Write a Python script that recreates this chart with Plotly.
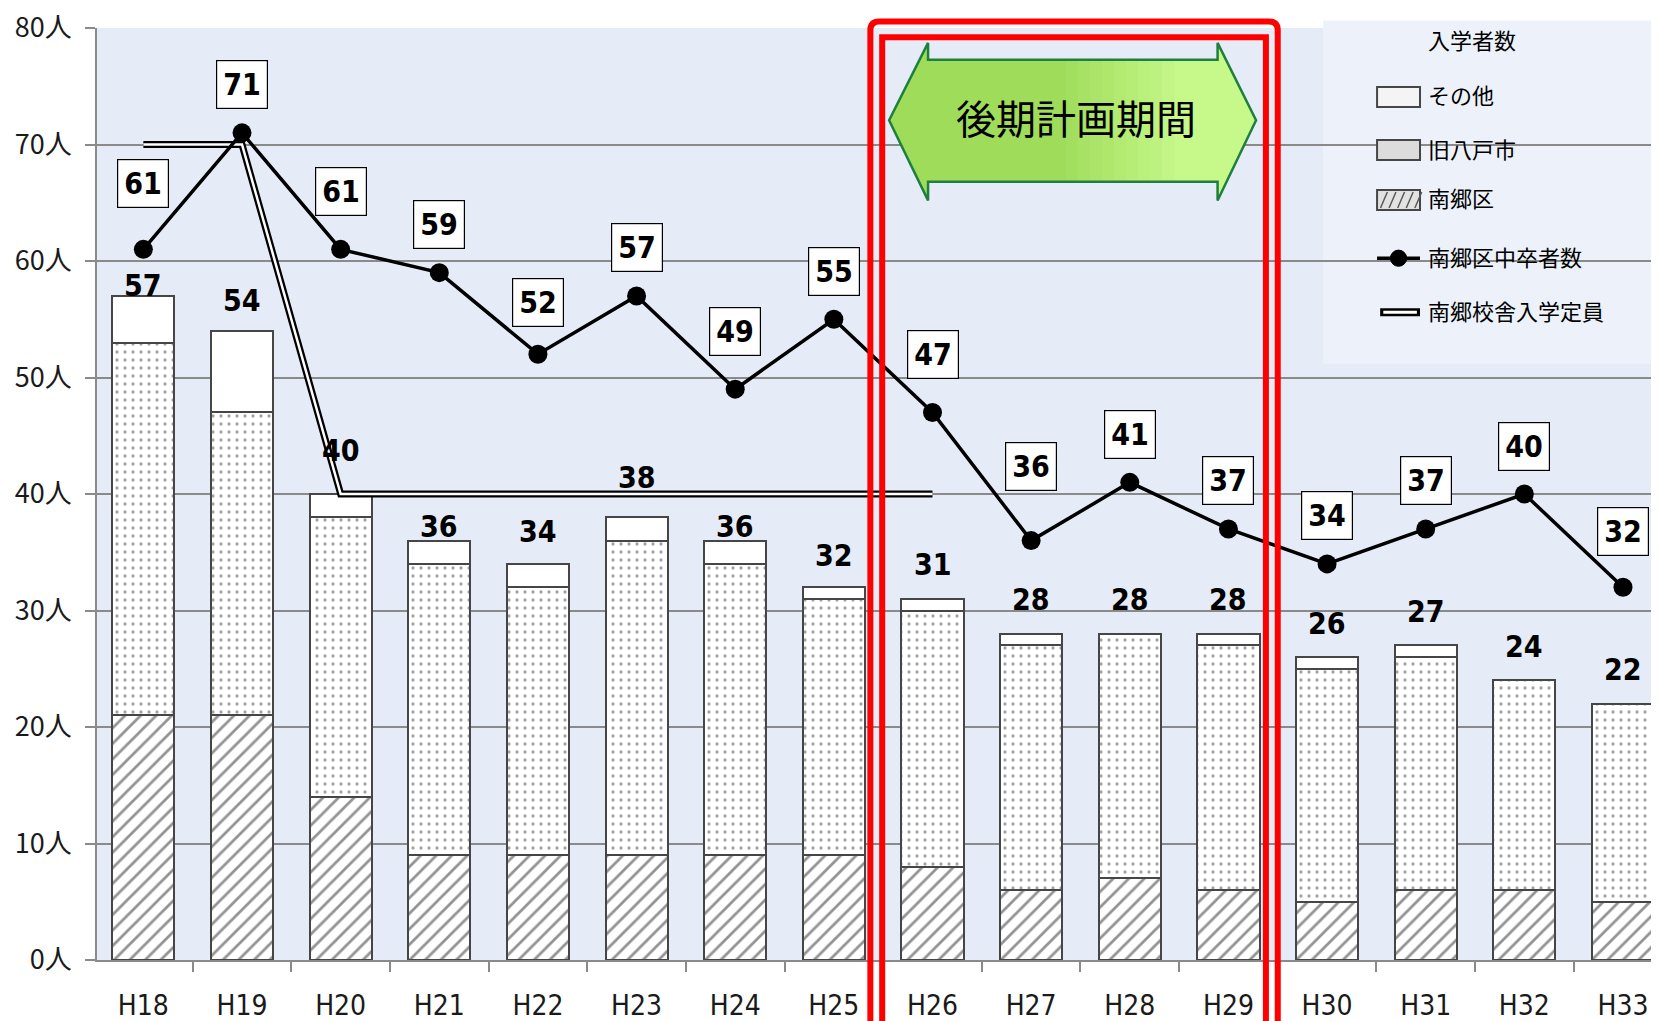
import plotly.graph_objects as go

# ---------------- data ----------------
years = ["H18", "H19", "H20", "H21", "H22", "H23", "H24", "H25",
         "H26", "H27", "H28", "H29", "H30", "H31", "H32", "H33"]
nango = [21, 21, 14, 9, 9, 9, 9, 9, 8, 6, 7, 6, 5, 6, 6, 5]          # 南郷区
hachinohe = [32, 26, 24, 25, 23, 27, 25, 22, 22, 21, 21, 21, 20, 20, 18, 17]  # 旧八戸市
others = [4, 7, 2, 2, 2, 2, 2, 1, 1, 1, 0, 1, 1, 1, 0, 0]             # その他
totals = [57, 54, 40, 36, 34, 38, 36, 32, 31, 28, 28, 28, 26, 27, 24, 22]
graduates = [61, 71, 61, 59, 52, 57, 49, 55, 47, 36, 41, 37, 34, 37, 40, 32]  # 南郷区中卒者数
capacity = [70, 70, 40, 40, 40, 40, 40, 40, 40,
            None, None, None, None, None, None, None]                  # 南郷校舎入学定員
y_ticks = [0, 10, 20, 30, 40, 50, 60, 70, 80]
y_ticktext = [f"{v}人" for v in y_ticks]
legend_title = "入学者数"
legend_names = ["その他", "旧八戸市", "南郷区", "南郷区中卒者数", "南郷校舎入学定員"]

# ---------------- style ----------------
NUM_FONT = "Liberation Sans Narrow, DejaVu Sans Condensed, Noto Sans CJK JP"
JP_FONT = "Noto Sans CJK JP"
EDGE = "rgb(70,70,70)"
bar_total_shift = [10, 30, 44, 14, 32, 40, 14, 32, 34, 34, 34, 34, 34, 34, 34, 34]
grad_label_shift = [66, 48, 58, 48, 52, 48, 58, 48, 58, 74, 48, 48, 48, 48, 48, 56]


def cjk_shift(size):
    # vertical compensation for Noto Sans CJK metrics in annotations
    return 0.75 * size + 4


fig = go.Figure()

fig.add_trace(go.Bar(
    x=years, y=nango, name="南郷区", showlegend=False,
    width=0.63,
    marker=dict(color="white", line=dict(color=EDGE, width=2),
                pattern=dict(shape="/", fgcolor="rgb(40,40,40)", bgcolor="white",
                             size=11, solidity=0.25)),
))
fig.add_trace(go.Bar(
    x=years, y=hachinohe, name="旧八戸市", showlegend=False,
    width=0.63,
    marker=dict(color="white", line=dict(color=EDGE, width=2),
                pattern=dict(shape=".", fgcolor="rgb(70,70,70)", bgcolor="white",
                             size=8, solidity=0.13)),
))
fig.add_trace(go.Bar(
    x=years, y=others, name="その他", showlegend=False,
    width=0.63,
    marker=dict(color="white", line=dict(color=EDGE, width=2)),
))

# capacity double line: black wide + white inner
fig.add_trace(go.Scatter(
    x=years, y=capacity, mode="lines", name="南郷校舎入学定員", showlegend=False,
    line=dict(color="black", width=7), connectgaps=False,
))
fig.add_trace(go.Scatter(
    x=years, y=capacity, mode="lines", showlegend=False,
    line=dict(color="white", width=2.5), hoverinfo="skip",
))

fig.add_trace(go.Scatter(
    x=years, y=graduates, mode="lines+markers", name="南郷区中卒者数", showlegend=False,
    line=dict(color="black", width=3.5),
    marker=dict(color="black", size=19),
))

annotations = []
for i, (yr, t) in enumerate(zip(years, totals)):
    annotations.append(dict(
        x=yr, y=t, xref="x", yref="y", text=f"<b>{t}</b>", showarrow=False,
        yshift=bar_total_shift[i], font=dict(family=NUM_FONT, size=30, color="black"),
    ))
for i, (yr, g) in enumerate(zip(years, graduates)):
    annotations.append(dict(
        x=yr, y=g, xref="x", yref="y", text=f"<b>{g}</b>", showarrow=False,
        yshift=grad_label_shift[i],
        font=dict(family=NUM_FONT, size=30, color="black"),
        bgcolor="white", bordercolor="black", borderwidth=1.2, borderpad=6,
    ))

# 後期計画期間 label
annotations.append(dict(
    x=9.45, y=0.901, xref="x", yref="paper", text="後期計画期間", showarrow=False,
    yshift=cjk_shift(40), font=dict(family=JP_FONT, size=40, color="black"),
))

shapes = []

# ---------- manual legend ----------
shapes.append(dict(type="rect", x0=0.785, x1=1.0, y0=0.64, y1=1.008, xref="paper", yref="paper",
                   fillcolor="#EDF2FA", line=dict(width=0), layer="below"))
annotations.append(dict(
    x=0.880, y=0.985, xref="paper", yref="paper", text=legend_title, showarrow=False,
    xanchor="center", yshift=cjk_shift(22), font=dict(family=JP_FONT, size=22, color="black"),
))
row_y = [0.926, 0.869, 0.8155, 0.753, 0.695]
sx0, sx1, tx = 0.8195, 0.847, 0.851
hh = 0.0107
for name, ry in zip(legend_names, row_y):
    annotations.append(dict(
        x=tx, y=ry, xref="paper", yref="paper", text=name, showarrow=False,
        xanchor="left", yshift=cjk_shift(22), font=dict(family=JP_FONT, size=22, color="black"),
    ))
# その他 swatch
shapes.append(dict(type="rect", x0=sx0, x1=sx1, y0=row_y[0] - hh, y1=row_y[0] + hh,
                   xref="paper", yref="paper", fillcolor="#F4F4F4",
                   line=dict(color="rgb(70,70,70)", width=2)))
# 旧八戸市 swatch
shapes.append(dict(type="rect", x0=sx0, x1=sx1, y0=row_y[1] - hh, y1=row_y[1] + hh,
                   xref="paper", yref="paper", fillcolor="#DCDCDC",
                   line=dict(color="rgb(70,70,70)", width=2)))
# 南郷区 swatch with hatch strokes
shapes.append(dict(type="rect", x0=sx0, x1=sx1, y0=row_y[2] - hh, y1=row_y[2] + hh,
                   xref="paper", yref="paper", fillcolor="#E2E2E2",
                   line=dict(color="rgb(70,70,70)", width=2)))
dx = (sx1 - sx0)
hatch = ""
for k in range(5):
    a = sx0 + dx * (0.08 + 0.2 * k)
    hatch += f"M {a},{row_y[2] - hh * 0.8} L {a + dx * 0.16},{row_y[2] + hh * 0.8} "
shapes.append(dict(type="path", path=hatch, xref="paper", yref="paper",
                   line=dict(color="rgb(90,90,90)", width=1.5)))
# 南郷区中卒者数 swatch
shapes.append(dict(type="line", x0=sx0, x1=sx1, y0=row_y[3], y1=row_y[3], xref="paper",
                   yref="paper", line=dict(color="black", width=3.5)))
cx = (sx0 + sx1) / 2
shapes.append(dict(type="circle", x0=cx - 0.0052, x1=cx + 0.0052, y0=row_y[3] - 0.0087,
                   y1=row_y[3] + 0.0087, xref="paper", yref="paper", fillcolor="black",
                   line=dict(color="black", width=1)))
# 南郷校舎入学定員 swatch (double line)
shapes.append(dict(type="line", x0=sx0 + 0.002, x1=sx1, y0=row_y[4], y1=row_y[4], xref="paper",
                   yref="paper", line=dict(color="black", width=8)))
shapes.append(dict(type="line", x0=sx0 + 0.004, x1=sx1 - 0.002, y0=row_y[4], y1=row_y[4],
                   xref="paper", yref="paper", line=dict(color="white", width=3)))

# ---------- green double arrow (decoration) ----------
xl, xlb, xrb, xr = 7.56, 7.955, 10.89, 11.28
yt, ybt, yc, ybb, yb = 0.984, 0.966, 0.901, 0.835, 0.815
arrow_path = (f"M {xl},{yc} L {xlb},{yt} L {xlb},{ybt} L {xrb},{ybt} L {xrb},{yt} "
              f"L {xr},{yc} L {xrb},{yb} L {xrb},{ybb} L {xlb},{ybb} L {xlb},{yb} Z")
shapes.append(dict(type="path", path=arrow_path, xref="x", yref="paper",
                   fillcolor="#9FDC5A", line=dict(width=0), layer="above"))
n_bands = 10
c0, c1 = (0x9F, 0xDC, 0x5A), (0xC6, 0xF8, 0x8A)
for k in range(1, n_bands + 1):
    bx = 9.35 + (10.45 - 9.35) * (k - 1) / (n_bands - 1)
    f = k / n_bands
    col = "rgb({},{},{})".format(*[round(a + (b - a) * f) for a, b in zip(c0, c1)])
    p = (f"M {bx},{ybt} L {xrb},{ybt} L {xrb},{yt} L {xr},{yc} L {xrb},{yb} "
         f"L {xrb},{ybb} L {bx},{ybb} Z")
    shapes.append(dict(type="path", path=p, xref="x", yref="paper",
                       fillcolor=col, line=dict(width=0), layer="above"))
shapes.append(dict(type="path", path=arrow_path, xref="x", yref="paper",
                   fillcolor="rgba(0,0,0,0)", line=dict(color="#1F7F3E", width=2.5), layer="above"))

# ---------- red frames ----------
ox0, ox1, oy0, oy1 = 7.37, 11.50, -0.08, 1.007
rx, ry = 0.09, 0.0095
outer = (f"M {ox0},{oy0} L {ox0},{oy1 - ry} Q {ox0},{oy1} {ox0 + rx},{oy1} "
         f"L {ox1 - rx},{oy1} Q {ox1},{oy1} {ox1},{oy1 - ry} L {ox1},{oy0}")
shapes.append(dict(type="path", path=outer, xref="x", yref="paper",
                   line=dict(color="#FF0000", width=6), layer="above"))
shapes.append(dict(type="rect", x0=7.49, x1=11.38, y0=-0.08, y1=0.990, xref="x", yref="paper",
                   line=dict(color="#FF0000", width=6), layer="above"))

fig.update_layout(
    width=1651, height=1013,
    margin=dict(l=89, r=0, t=20, b=61, autoexpand=False),
    barmode="stack",
    paper_bgcolor="white",
    plot_bgcolor="#E6ECF7",
    font=dict(family=NUM_FONT, color="#1a1a1a"),
    showlegend=False,
    annotations=annotations,
    shapes=shapes,
    xaxis=dict(
        type="category", range=[-0.47, 15.365], tickson="boundaries", automargin=False,
        ticks="outside", ticklen=10, tickcolor="#8a8a8a", tickwidth=1.5,
        showline=True, linecolor="#8a8a8a", linewidth=1.5, showgrid=False,
        ticklabelstandoff=20,
        tickfont=dict(family=NUM_FONT, size=28, color="#1a1a1a"),
    ),
    yaxis=dict(
        range=[0, 80], tickmode="array", tickvals=y_ticks, ticktext=y_ticktext,
        automargin=False,
        ticks="outside", ticklen=10, tickcolor="#8a8a8a", tickwidth=1.5,
        showline=True, linecolor="#8a8a8a", linewidth=1.5,
        gridcolor="#8a8a8a", gridwidth=1.5, zeroline=False,
        ticklabeloverflow="allow", ticklabelstandoff=8,
        tickfont=dict(family=JP_FONT, size=27, color="#1a1a1a"),
    ),
    bargap=0.37,
)

fig.write_html("out.html")
